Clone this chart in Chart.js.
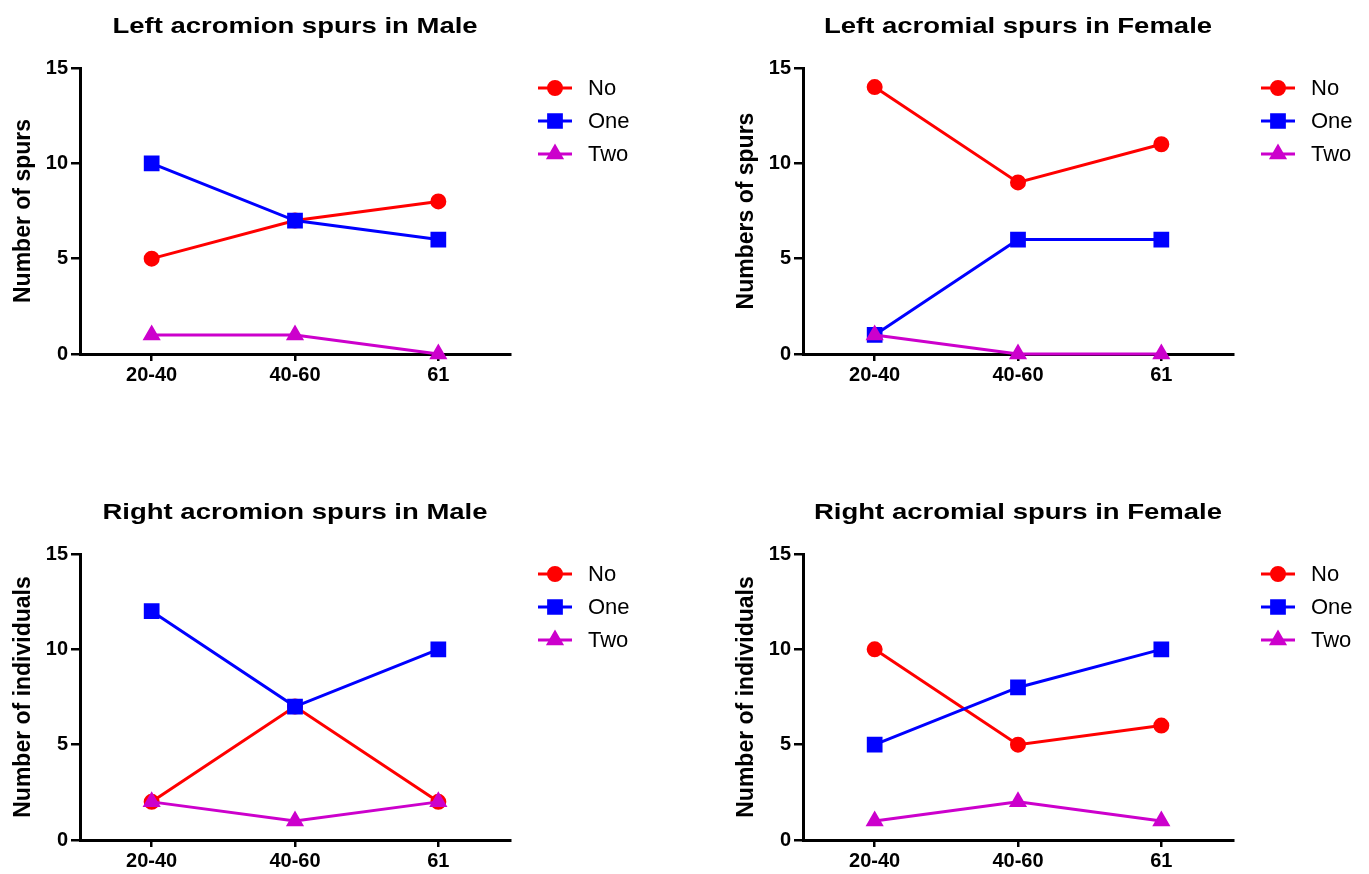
<!DOCTYPE html>
<html>
<head>
<meta charset="utf-8">
<script src="https://cdn.jsdelivr.net/npm/chart.js@4.4.1/dist/chart.umd.min.js"></script>
<style>
  body { margin: 0; background: #fff; width: 1369px; height: 874px; position: relative; overflow: hidden; }
  canvas { position: absolute; }
</style>
</head>
<body>
<canvas id="c1" width="646" height="388" style="left:0px;top:0px"></canvas>
<canvas id="c2" width="646" height="388" style="left:723px;top:0px"></canvas>
<canvas id="c3" width="646" height="388" style="left:0px;top:486px"></canvas>
<canvas id="c4" width="646" height="388" style="left:723px;top:486px"></canvas>
<script>
// age groups on the x axis
const ageGroups = ['20-40', '40-60', '61'];
const seriesNames = ['No', 'One', 'Two'];

// left, male
const leftMaleNo = [5, 7, 8];
const leftMaleOne = [10, 7, 6];
const leftMaleTwo = [1, 1, 0];
// left, female
const leftFemaleNo = [14, 9, 11];
const leftFemaleOne = [1, 6, 6];
const leftFemaleTwo = [1, 0, 0];
// right, male
const rightMaleNo = [2, 7, 2];
const rightMaleOne = [12, 7, 10];
const rightMaleTwo = [2, 1, 2];
// right, female
const rightFemaleNo = [10, 5, 6];
const rightFemaleOne = [5, 8, 10];
const rightFemaleTwo = [1, 2, 1];

const yTicks = [0, 5, 10, 15];

const colors = ['#FF0000', '#0000FF', '#CC00CC'];
const shapes = ['circle', 'rect', 'triangle'];
const radii = [6.5, 9, 7.5];
const FONT = "'Liberation Sans', Arial, sans-serif";

// title + legend drawn by hand (legend needs line through marker)
const panelDecor = {
  id: 'panelDecor',
  afterDraw(chart, args, opts) {
    const ctx = chart.ctx;
    const area = chart.chartArea;
    ctx.save();
    // title, stretched a bit like the original
    ctx.font = 'bold 22px ' + FONT;
    ctx.fillStyle = '#000';
    ctx.textBaseline = 'alphabetic';
    ctx.textAlign = 'center';
    const cx = (area.left + area.right) / 2;
    ctx.translate(cx, 33);
    ctx.scale(1.25, 1);
    ctx.fillText(opts.title, 0, 0);
    ctx.restore();

    // legend
    ctx.save();
    chart.data.datasets.forEach(function (ds, i) {
      const y = area.top + 20 + i * 33;
      const x0 = area.right + 28;
      ctx.strokeStyle = ds.borderColor;
      ctx.lineWidth = 3;
      ctx.beginPath();
      ctx.moveTo(x0, y);
      ctx.lineTo(x0 + 34, y);
      ctx.stroke();
      Chart.helpers.drawPoint(ctx, {
        pointStyle: ds.pointStyle,
        radius: ds.pointRadius,
        rotation: 0,
        borderWidth: 1
      }, x0 + 17, y);
      ctx.fillStyle = ds.borderColor;
      ctx.fill();
      ctx.fillStyle = '#000';
      ctx.font = '22px ' + FONT;
      ctx.textAlign = 'left';
      ctx.textBaseline = 'middle';
      ctx.fillText(ds.label, x0 + 50, y + 1);
    });
    ctx.restore();
  }
};

function makeSet(i, values) {
  return {
    label: seriesNames[i],
    data: values,
    borderColor: colors[i],
    backgroundColor: colors[i],
    pointBackgroundColor: colors[i],
    pointBorderColor: colors[i],
    pointStyle: shapes[i],
    pointRadius: radii[i],
    pointHoverRadius: radii[i],
    borderWidth: 3,
    tension: 0,
    clip: false,
    order: 3 - i
  };
}

function makeChart(id, title, yTitle, no, one, two) {
  return new Chart(document.getElementById(id), {
    type: 'line',
    data: {
      labels: ageGroups,
      datasets: [makeSet(0, no), makeSet(1, one), makeSet(2, two)]
    },
    plugins: [panelDecor],
    options: {
      responsive: false,
      animation: false,
      layout: { padding: { top: 68, right: 136, bottom: 0, left: 0 } },
      plugins: {
        legend: { display: false },
        title: { display: false },
        tooltip: { enabled: false },
        panelDecor: { title: title }
      },
      scales: {
        x: {
          offset: true,
          afterFit: function (s) { s.height = 34; },
          grid: { offset: false, drawOnChartArea: false, drawTicks: true, tickLength: 7, color: '#000', lineWidth: 2.5 },
          border: { color: '#000', width: 3 },
          ticks: { color: '#000', padding: 2, font: { family: FONT, size: 20, weight: 'bold' } }
        },
        y: {
          min: 0,
          max: 15,
          afterFit: function (s) { s.width = 80; },
          afterBuildTicks: function (s) { s.ticks = yTicks.map(v => ({ value: v })); },
          grid: { drawOnChartArea: false, drawTicks: true, tickLength: 9, color: '#000', lineWidth: 2.5 },
          border: { color: '#000', width: 3 },
          ticks: { color: '#000', padding: 3, font: { family: FONT, size: 20, weight: 'bold' } },
          title: {
            display: true,
            text: yTitle,
            color: '#000',
            padding: { top: 10, bottom: 0 },
            font: { family: FONT, size: 23, weight: 'bold' }
          }
        }
      }
    }
  });
}

makeChart('c1', 'Left acromion spurs in Male', 'Number of spurs', leftMaleNo, leftMaleOne, leftMaleTwo);
makeChart('c2', 'Left acromial spurs in Female', 'Numbers of spurs', leftFemaleNo, leftFemaleOne, leftFemaleTwo);
makeChart('c3', 'Right acromion spurs in Male', 'Number of individuals', rightMaleNo, rightMaleOne, rightMaleTwo);
makeChart('c4', 'Right acromial spurs in Female', 'Number of individuals', rightFemaleNo, rightFemaleOne, rightFemaleTwo);
</script>
</body>
</html>
